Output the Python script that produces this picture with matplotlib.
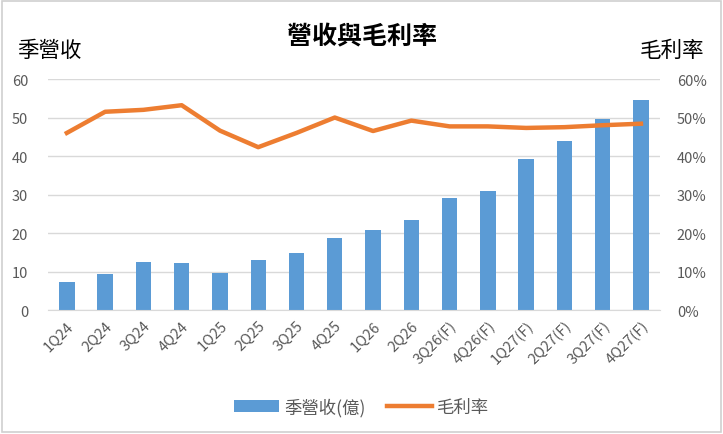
import matplotlib
matplotlib.use('Agg')
import matplotlib.pyplot as plt
from matplotlib.ticker import PercentFormatter
from matplotlib.patches import Rectangle

plt.rcParams['font.family'] = ['Noto Sans CJK TC', 'DejaVu Sans']

quarters = ['1Q24', '2Q24', '3Q24', '4Q24', '1Q25', '2Q25', '3Q25', '4Q25',
            '1Q26', '2Q26', '3Q26(F)', '4Q26(F)', '1Q27(F)', '2Q27(F)', '3Q27(F)', '4Q27(F)']
revenue = [7.4, 9.4, 12.6, 12.2, 9.7, 13.1, 14.9, 18.6,
           20.9, 23.4, 29.0, 30.9, 39.3, 44.0, 49.7, 54.5]
margin = [46.0, 51.5, 52.0, 53.2, 46.6, 42.3, 46.0, 50.0,
          46.5, 49.2, 47.7, 47.7, 47.3, 47.5, 48.0, 48.4]

blue = '#5B9BD5'
orange = '#ED7D31'
gray = '#595959'

fig = plt.figure(figsize=(7.23, 4.35), dpi=100)
ax = fig.add_axes([0.066, 0.285, 0.847, 0.531])
ax2 = ax.twinx()

x = range(len(quarters))
bars = ax.bar(x, revenue, width=0.4, color=blue, label='季營收(億)', zorder=2)
line, = ax2.plot(x, margin, color=orange, lw=3.2, label='毛利率', zorder=3)

ax.set_xlim(-0.5, len(quarters) - 0.5)
ax.set_ylim(0, 60)
ax.set_yticks(range(0, 61, 10))
ax2.set_ylim(0, 60)
ax2.set_yticks(range(0, 61, 10))
ax2.yaxis.set_major_formatter(PercentFormatter(decimals=0))

ax.grid(axis='y', color='#D9D9D9', lw=1)
ax.set_axisbelow(True)
for a in (ax, ax2):
    for s in a.spines.values():
        s.set_visible(False)
    a.tick_params(length=0, colors=gray, labelsize=10.5)
ax.spines['bottom'].set_visible(True)
ax.spines['bottom'].set_color('#D9D9D9')

ax.set_xticks(list(x))
ax.set_xticklabels(quarters, rotation=45, ha='right', rotation_mode='anchor')
ax.tick_params(axis='x', pad=6)
ax.tick_params(axis='y', pad=14)
ax2.tick_params(axis='y', pad=12)

fig.text(0.5, 0.913, '營收與毛利率', ha='center', va='center', fontsize=18, fontweight='bold', color='black')
fig.text(0.024, 0.883, '季營收', ha='left', va='center', fontsize=15.5, color='black')
fig.text(0.974, 0.883, '毛利率', ha='right', va='center', fontsize=15.5, color='black')

fig.legend(handles=[bars, line], loc='center', bbox_to_anchor=(0.5, 0.062), ncol=2, frameon=False,
           fontsize=12.5, handlelength=2.6, columnspacing=1.2, handletextpad=0.3, labelcolor=gray)

fig.patches.append(Rectangle((0.003, 0.005), 0.994, 0.99, transform=fig.transFigure,
                             fill=False, edgecolor='#D0D0D0', lw=1.2))

fig.savefig('out.png', dpi=100)
